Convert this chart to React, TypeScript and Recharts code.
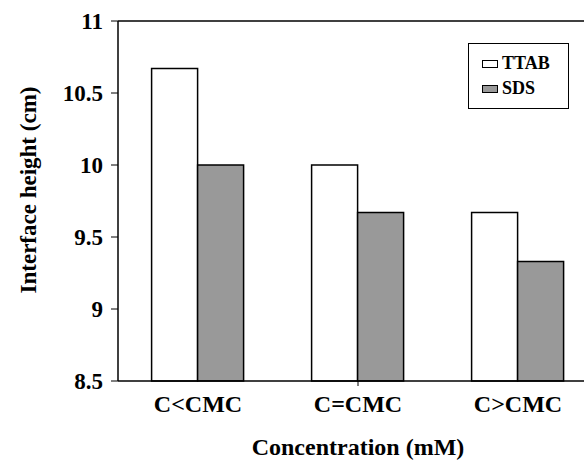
import React from "react";
import {
  BarChart, Bar, XAxis, YAxis, ReferenceLine,
} from "recharts";

const categories = ["C<CMC", "C=CMC", "C>CMC"];
const ttab = [10.67, 10.0, 9.67];
const sds = [10.0, 9.67, 9.33];
const yTicks = [8.5, 9, 9.5, 10, 10.5, 11];
const edgeTicks = [1, 2]; // boundaries between categories

const SERIES = [
  { key: "TTAB", fill: "#ffffff" },
  { key: "SDS", fill: "#999999" },
];

const data = categories.map((c, i) => ({ cat: c, TTAB: ttab[i], SDS: sds[i] }));

const FONT = "'Liberation Serif', 'Times New Roman', serif";
const TICK = { fontSize: 23, fontWeight: 700, fill: "#000", fontFamily: FONT };
const CAT_TICK = { ...TICK, fontSize: 24 };

// short tick below the axis at a category boundary
const EdgeTick = (p: any) => {
  const bottom = Math.max(p.y1, p.y2);
  return <line x1={p.x1} x2={p.x1} y1={bottom} y2={bottom + 5} stroke="#000" strokeWidth={1} />;
};

// legend drawn as an overlay so it takes no room from the plot
function LegendBox() {
  return (
    <div
      style={{
        position: "absolute",
        left: 468,
        top: 43,
        border: "1.5px solid #000",
        background: "#fff",
        width: 101,
        height: 66,
        boxSizing: "border-box",
        padding: "7px 0 0 13px",
        fontFamily: FONT,
        fontWeight: 700,
        fontSize: 18,
        color: "#000",
      }}
    >
      {SERIES.map((s) => (
        <div key={s.key} style={{ display: "flex", alignItems: "center", height: 25 }}>
          <span
            style={{
              display: "inline-block",
              width: 14,
              height: 6,
              border: "1.5px solid #000",
              background: s.fill,
              marginRight: 4,
            }}
          />
          {s.key}
        </div>
      ))}
    </div>
  );
}

export default function App() {
  return (
    <div
      style={{
        position: "absolute", left: 0, top: 0, width: 584, height: 461,
        overflow: "hidden", background: "#fff",
      }}
    >
      <BarChart
        width={620}
        height={461}
        data={data}
        margin={{ top: 21, right: 22, left: 0, bottom: 0 }}
        barCategoryGap="21%"
        barGap={0}
      >
        <XAxis xAxisId="edge" type="number" domain={[0, 3]} hide />
        <XAxis
          dataKey="cat"
          height={80}
          tickLine={false}
          tickSize={0}
          tickMargin={14}
          axisLine={{ stroke: "#000", strokeWidth: 1.5 }}
          tick={CAT_TICK}
          label={{
            value: "Concentration (mM)",
            position: "insideBottom",
            offset: 6,
            style: { ...CAT_TICK, textAnchor: "middle" },
          }}
        />
        <YAxis
          width={118}
          domain={[8.5, 11]}
          ticks={yTicks}
          interval={0}
          tickSize={7}
          tickMargin={8}
          axisLine={{ stroke: "#000", strokeWidth: 1.5 }}
          tickLine={{ stroke: "#000", strokeWidth: 1 }}
          tick={TICK}
          label={({ viewBox }: any) => (
            <text
              x={28}
              y={viewBox.y + viewBox.height / 2 - 11}
              transform={`rotate(-90, 28, ${viewBox.y + viewBox.height / 2 - 11})`}
              textAnchor="middle"
              dominantBaseline="central"
              style={TICK}
            >
              Interface height (cm)
            </text>
          )}
        />
        <ReferenceLine y={11} stroke="#000" strokeWidth={1.5} />
        {edgeTicks.map((t) => (
          <ReferenceLine key={t} xAxisId="edge" x={t} shape={EdgeTick} />
        ))}
        {SERIES.map((s) => (
          <Bar
            key={s.key}
            dataKey={s.key}
            fill={s.fill}
            stroke="#000"
            strokeWidth={1.5}
            isAnimationActive={false}
          />
        ))}
      </BarChart>
      <LegendBox />
    </div>
  );
}
